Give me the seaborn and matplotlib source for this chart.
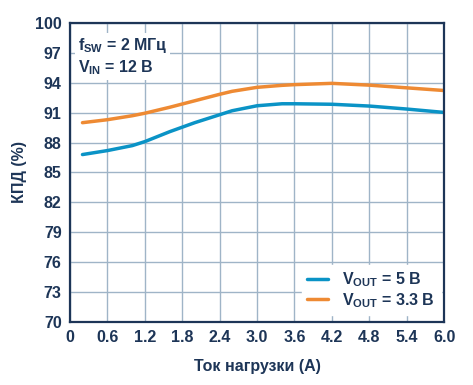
import numpy as np
import pandas as pd
import seaborn as sns
from matplotlib import pyplot as plt

# load current (A) and efficiency (%)
load_a = [0.2, 0.6, 1.0, 1.2, 1.6, 2.0, 2.4, 2.6, 3.0, 3.4, 3.6, 4.2, 4.8, 5.4, 6.0]
eff_5v = [86.8, 87.2, 87.7, 88.1, 89.1, 90.0, 90.8, 91.2, 91.7, 91.9, 91.9, 91.85, 91.67, 91.37, 91.03]
eff_3v3 = [90.0, 90.3, 90.7, 90.95, 91.55, 92.2, 92.85, 93.15, 93.55, 93.75, 93.82, 93.95, 93.77, 93.5, 93.23]
series_names = ["$V_{OUT}$ = 5 В", "$V_{OUT}$ = 3.3 В"]
x_ticks = [0, 0.6, 1.2, 1.8, 2.4, 3.0, 3.6, 4.2, 4.8, 5.4, 6.0]
x_tick_labels = ["0", "0.6", "1.2", "1.8", "2.4", "3.0", "3.6", "4.2", "4.8", "5.4", "6.0"]
y_ticks = [70, 73, 76, 79, 82, 85, 88, 91, 94, 97, 100]

navy = "#1d3557"
grid_c = "#9fb4c7"

sns.set_theme(style="white")
plt.rcParams["font.family"] = ["Liberation Sans", "DejaVu Sans"]
plt.rcParams["font.weight"] = "bold"
plt.rcParams["mathtext.fontset"] = "custom"
plt.rcParams["mathtext.rm"] = "Liberation Sans:bold"
plt.rcParams["mathtext.it"] = "Liberation Sans:bold"
plt.rcParams["mathtext.bf"] = "Liberation Sans:bold"
plt.rcParams["mathtext.default"] = "regular"

df = pd.DataFrame(
    {
        "load": load_a * 2,
        "eff": eff_5v + eff_3v3,
        "series": [series_names[0]] * len(load_a) + [series_names[1]] * len(load_a),
    }
)

fig, ax = plt.subplots(figsize=(4.73, 3.85), dpi=100)
fig.subplots_adjust(left=0.148, right=0.939, top=0.94, bottom=0.164)

sns.lineplot(
    df,
    x="load",
    y="eff",
    hue="series",
    palette=["#0a93c6", "#ee8a33"],
    linewidth=2.5,
    ax=ax,
    legend=True,
)

ax.set_xlim(0, 6.0)
ax.set_ylim(70, 100)
ax.set_xticks(x_ticks)
ax.set_xticklabels(x_tick_labels)
ax.set_yticks(y_ticks)
ax.grid(True, color=grid_c, linewidth=1.0)
ax.set_axisbelow(True)
ax.tick_params(length=0, labelsize=11.5, labelcolor=navy, pad=6)
for lab in ax.get_xticklabels() + ax.get_yticklabels():
    lab.set_fontweight("bold")
for sp in ax.spines.values():
    sp.set_color(navy)
    sp.set_linewidth(1.6)

ax.set_xlabel("Ток нагрузки (А)", fontsize=11.5, fontweight="bold", color=navy, labelpad=10)
ax.set_ylabel("КПД (%)", fontsize=11.5, fontweight="bold", color=navy, labelpad=6)

ax.text(
    0.13, 98.7,
    "f$_{SW}$ = 2 МГц\nV$_{IN}$ = 12 В",
    fontsize=11.5, fontweight="bold", color=navy, va="top", ha="left",
    linespacing=1.25,
    bbox=dict(facecolor="white", edgecolor="none", pad=2),
)

leg = ax.legend(
    loc="lower right",
    bbox_to_anchor=(1.012, -0.005),
    frameon=True,
    fancybox=False,
    facecolor="white",
    edgecolor="white",
    framealpha=1,
    fontsize=11.5,
    handlelength=1.3,
    handletextpad=0.9,
    borderpad=0.35,
    labelspacing=0.12,
)
for t in leg.get_texts():
    t.set_color(navy)
    t.set_fontweight("bold")
for ln in leg.get_lines():
    ln.set_linewidth(2.5)

fig.savefig("out.png", dpi=100)
